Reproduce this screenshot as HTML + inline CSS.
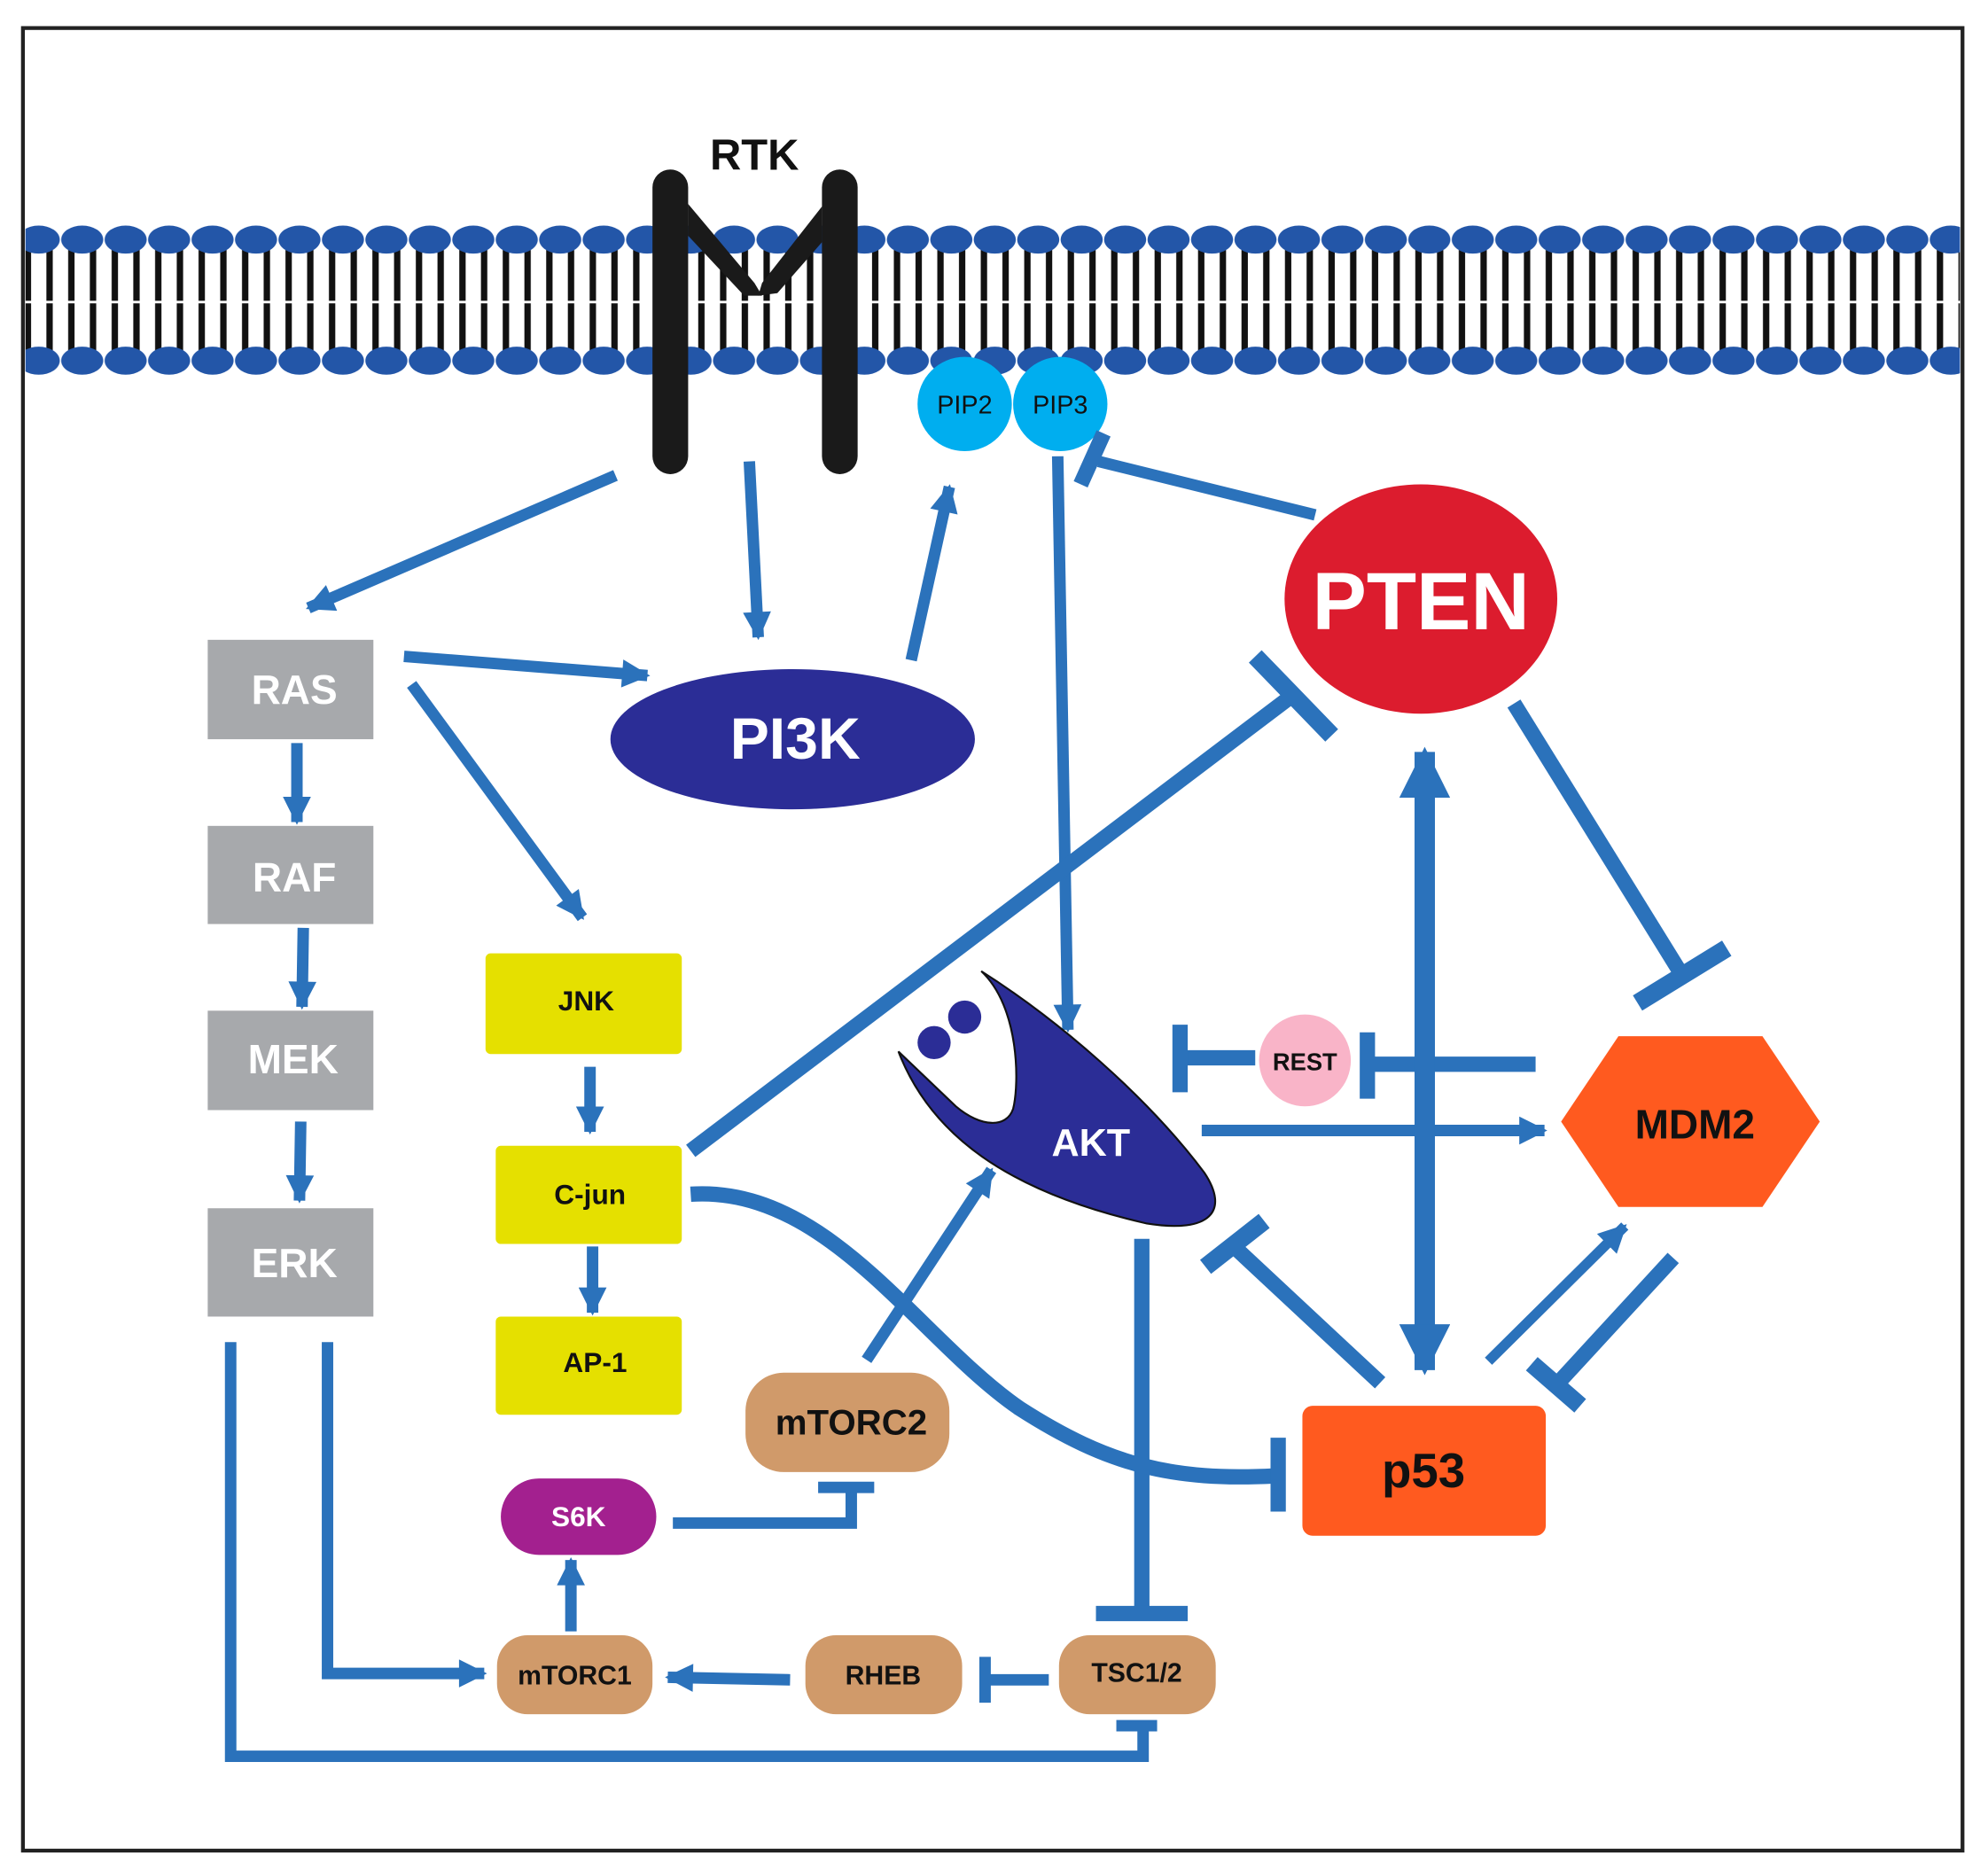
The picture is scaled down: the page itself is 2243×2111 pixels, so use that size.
<!DOCTYPE html>
<html><head><meta charset="utf-8"><style>
html,body{margin:0;padding:0;background:#fff;}
svg{display:block;}
text{font-family:"Liberation Sans",sans-serif;font-weight:bold;text-anchor:middle;dominant-baseline:central;}
</style></head><body>
<svg width="2243" height="2111" viewBox="0 0 1560 1468" preserveAspectRatio="none" xmlns="http://www.w3.org/2000/svg">
<defs>
<marker id="ah" viewBox="0 0 10 10" refX="9" refY="5" markerWidth="26" markerHeight="22" markerUnits="userSpaceOnUse" orient="auto"><path d="M0,0 L10,5 L0,10 Z" fill="#2b72bb"/></marker>
<marker id="ahb" viewBox="0 0 10 10" refX="9" refY="5" markerWidth="40" markerHeight="40" markerUnits="userSpaceOnUse" orient="auto-start-reverse"><path d="M0,0 L10,5 L0,10 Z" fill="#2b72bb"/></marker>
<pattern id="mem" x="13.4" y="0" width="34.1" height="1468" patternUnits="userSpaceOnUse">
<rect x="6" y="194" width="5" height="86" fill="#111"/>
<rect x="23" y="194" width="5" height="86" fill="#111"/>
<ellipse cx="17" cy="188" rx="16.5" ry="11" fill="#2356a8"/>
<ellipse cx="17" cy="283" rx="16.5" ry="11" fill="#2356a8"/>
</pattern>
</defs>
<rect x="0" y="0" width="1560" height="1468" fill="#fff"/>
<rect x="18" y="22" width="1522" height="1430" fill="#fff" stroke="#222" stroke-width="3"/>
<rect x="20" y="174" width="1518" height="124" fill="url(#mem)"/>
<rect x="20" y="236" width="1518" height="2" fill="#fff"/>

<!-- RTK -->
<text x="592" y="122" font-size="34" fill="#111">RTK</text>
<g stroke="#1a1a1a" stroke-linecap="round" fill="none">
<line x1="526" y1="147" x2="526" y2="358" stroke-width="28"/>
<line x1="659" y1="147" x2="659" y2="358" stroke-width="28"/>
</g>
<path d="M540,160 L592,222 L598,232 L584,232 L540,185 Z" fill="#1a1a1a"/>
<path d="M645,162 L598,222 L595,232 L610,230 L645,190 Z" fill="#1a1a1a"/>

<!-- PIP -->
<circle cx="757" cy="317" r="37" fill="#00aeef"/>
<circle cx="832" cy="317" r="37" fill="#00aeef"/>
<text x="757" y="318" font-size="20" fill="#111" style="font-weight:normal">PIP2</text>
<text x="832" y="318" font-size="20" fill="#111" style="font-weight:normal">PIP3</text>

<!-- connectors -->
<g stroke="#2b72bb" fill="none" stroke-width="9">
<line x1="483" y1="373" x2="242" y2="477" marker-end="url(#ah)"/>
<line x1="588" y1="362" x2="595" y2="500" marker-end="url(#ah)"/>
<line x1="715" y1="518" x2="745" y2="382" marker-end="url(#ah)"/>
<line x1="317" y1="515" x2="508" y2="530" marker-end="url(#ah)"/>
<line x1="323" y1="537" x2="457" y2="720" marker-end="url(#ah)"/>
<line x1="233" y1="583" x2="233" y2="645" marker-end="url(#ah)"/>
<line x1="238" y1="728" x2="237" y2="790" marker-end="url(#ah)"/>
<line x1="236" y1="880" x2="235" y2="942" marker-end="url(#ah)"/>
<line x1="463" y1="837" x2="463" y2="888" marker-end="url(#ah)"/>
<line x1="465" y1="978" x2="465" y2="1030" marker-end="url(#ah)"/>
<line x1="830" y1="358" x2="838" y2="808" marker-end="url(#ah)"/>
<line x1="943" y1="887" x2="1212" y2="887" marker-end="url(#ah)"/>
<line x1="1168" y1="1068" x2="1275" y2="962" stroke-width="8" marker-end="url(#ah)"/>
<line x1="680" y1="1067" x2="778" y2="918" marker-end="url(#ah)"/>
<line x1="448" y1="1280" x2="448" y2="1224" marker-end="url(#ah)"/>
<line x1="620" y1="1318" x2="524" y2="1316" marker-end="url(#ah)"/>
<path d="M257,1053 V1313 H380" marker-end="url(#ah)"/>
<!-- inhibitions -->
<line x1="1032" y1="404" x2="862" y2="362"/>
<line x1="848" y1="380" x2="866" y2="340" stroke-width="12"/>
<line x1="542" y1="903" x2="1015" y2="545" stroke-width="12"/>
<line x1="985" y1="515" x2="1045" y2="577" stroke-width="14"/>
<line x1="1188" y1="552" x2="1318" y2="762" stroke-width="12"/>
<line x1="1285" y1="787" x2="1355" y2="744" stroke-width="14"/>
<line x1="1205" y1="835" x2="1072" y2="835" stroke-width="12"/>
<line x1="1073" y1="810" x2="1073" y2="862" stroke-width="12"/>
<line x1="985" y1="830" x2="928" y2="830" stroke-width="12"/>
<line x1="926" y1="804" x2="926" y2="857" stroke-width="12"/>
<line x1="1083" y1="1085" x2="965" y2="975" stroke-width="12"/>
<line x1="946" y1="994" x2="992" y2="958" stroke-width="14"/>
<line x1="1313" y1="987" x2="1220" y2="1088" stroke-width="12"/>
<line x1="1202" y1="1070" x2="1240" y2="1103" stroke-width="14"/>
<line x1="896" y1="972" x2="896" y2="1265" stroke-width="12"/>
<line x1="860" y1="1266" x2="932" y2="1266" stroke-width="12"/>
<path d="M542,937 C650,930 720,1050 800,1105 C870,1150 920,1162 1000,1158" stroke-width="12"/>
<line x1="1003" y1="1128" x2="1003" y2="1186" stroke-width="12"/>
<path d="M528,1195 H668 V1168"/>
<line x1="642" y1="1167" x2="686" y2="1167"/>
<line x1="823" y1="1318" x2="773" y2="1318"/>
<line x1="773" y1="1300" x2="773" y2="1336"/>
<path d="M181,1053 V1378 H897 V1355"/>
<line x1="876" y1="1354" x2="908" y2="1354"/>
<line x1="1118" y1="590" x2="1118" y2="1075" stroke-width="16" marker-start="url(#ahb)" marker-end="url(#ahb)"/>
</g>

<!-- nodes -->
<ellipse cx="622" cy="580" rx="143" ry="55" fill="#2b2d96"/>
<text x="624" y="580" font-size="46" fill="#fff">PI3K</text>
<ellipse cx="1115" cy="470" rx="107" ry="90" fill="#dc1c2e"/>
<text x="1115" y="472" font-size="64" fill="#fff">PTEN</text>

<g fill="#a7a9ac">
<rect x="163" y="502" width="130" height="78"/>
<rect x="163" y="648" width="130" height="77"/>
<rect x="163" y="793" width="130" height="78"/>
<rect x="163" y="948" width="130" height="85"/>
</g>
<g font-size="32" fill="#fff">
<text x="231" y="541">RAS</text><text x="231" y="688">RAF</text><text x="230" y="831">MEK</text><text x="231" y="991">ERK</text>
</g>
<g fill="#e5e000">
<rect x="381" y="748" width="154" height="79" rx="4"/>
<rect x="389" y="899" width="146" height="77" rx="4"/>
<rect x="389" y="1033" width="146" height="77" rx="4"/>
</g>
<g font-size="22" fill="#111">
<text x="460" y="785">JNK</text><text x="463" y="937">C-jun</text><text x="467" y="1069">AP-1</text>
</g>

<path d="M770,762 C800,790 800,850 795,870 C790,885 770,885 750,868 L705,825 C730,890 790,935 900,960 C950,968 965,950 945,920 C900,860 830,800 770,762 Z" fill="#2b2d96" stroke="#111" stroke-width="1.5"/>
<circle cx="733" cy="818" r="13" fill="#2b2d96"/>
<circle cx="757" cy="798" r="13" fill="#2b2d96"/>
<text x="856" y="897" font-size="30" fill="#fff">AKT</text>

<circle cx="1024" cy="832" r="36" fill="#f9b4c8"/>
<text x="1024" y="833" font-size="19" fill="#111">REST</text>
<polygon points="1225,880 1270,813 1383,813 1428,880 1383,947 1270,947" fill="#ff5a1f"/>
<text x="1330" y="882" font-size="32" fill="#111">MDM2</text>
<rect x="1022" y="1103" width="191" height="102" rx="8" fill="#ff5a1f"/>
<text x="1117" y="1154" font-size="38" fill="#111">p53</text>

<rect x="585" y="1077" width="160" height="78" rx="30" fill="#d09a6a"/>
<text x="668" y="1116" font-size="28" fill="#111">mTORC2</text>
<rect x="393" y="1160" width="122" height="60" rx="30" fill="#a3208f"/>
<text x="454" y="1190" font-size="22" fill="#fff">S6K</text>
<g fill="#d09a6a">
<rect x="390" y="1283" width="122" height="62" rx="24"/>
<rect x="632" y="1283" width="123" height="62" rx="24"/>
<rect x="831" y="1283" width="123" height="62" rx="24"/>
</g>
<g font-size="21" fill="#111">
<text x="451" y="1315">mTORC1</text><text x="693" y="1315">RHEB</text><text x="892" y="1313">TSC1/2</text>
</g>
</svg>
</body></html>
